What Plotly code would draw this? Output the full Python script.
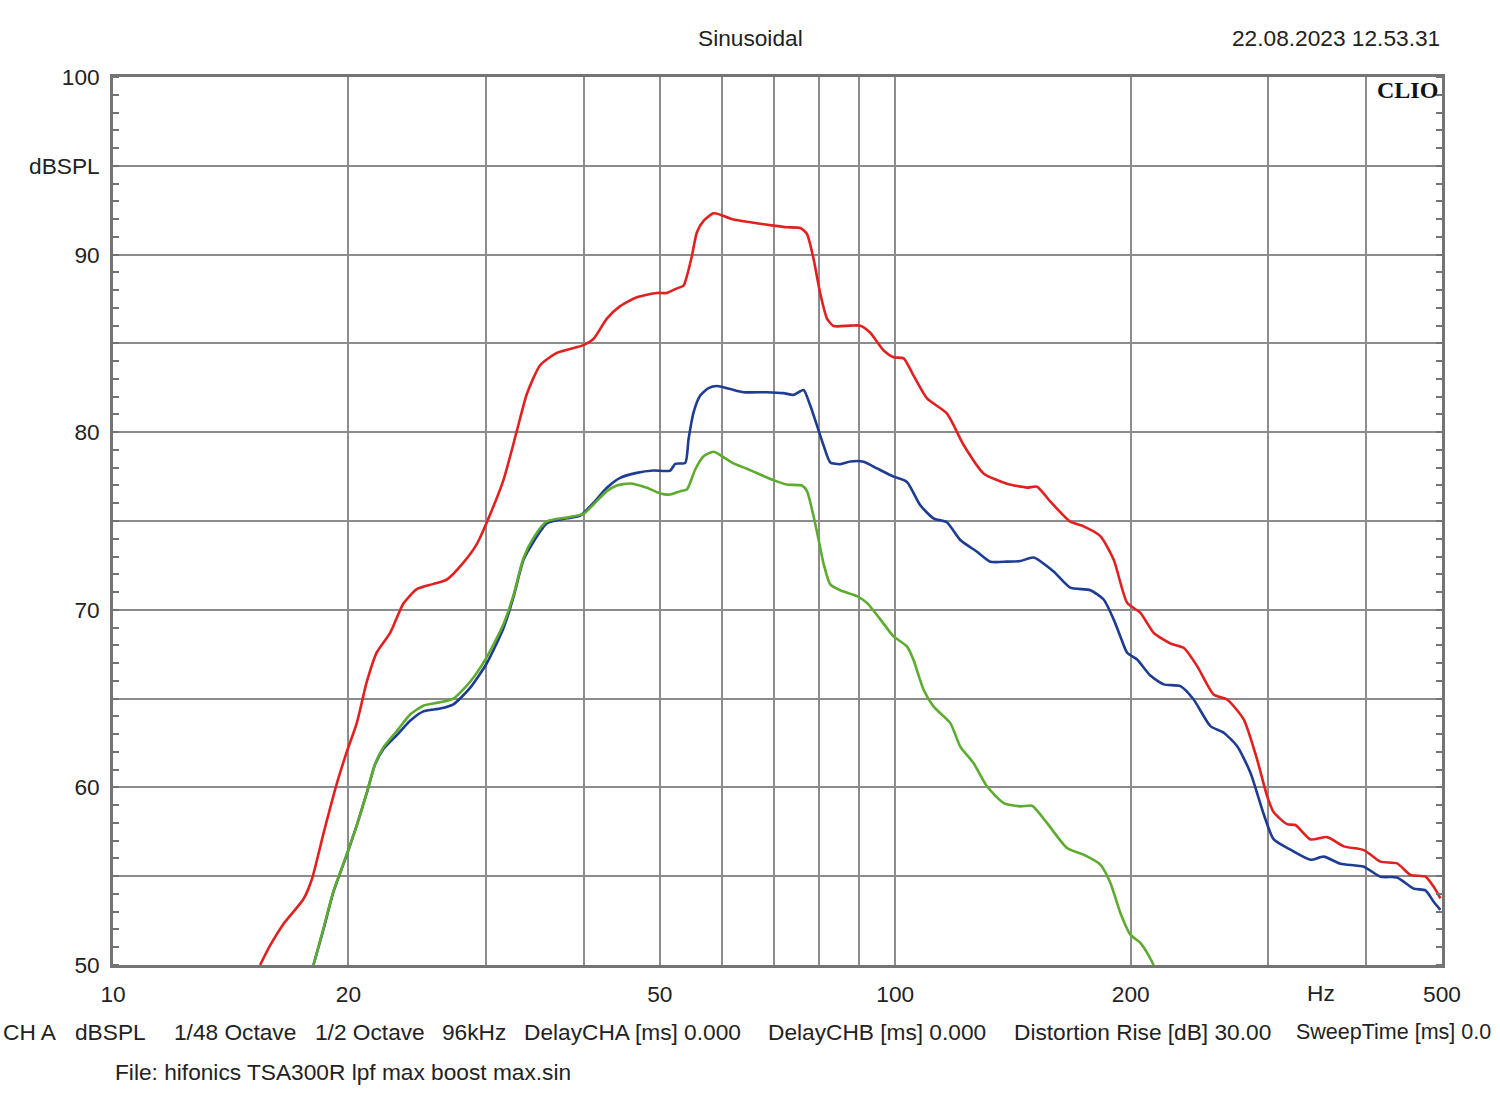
import numpy as np
import plotly.graph_objects as go

# ---------------- data ----------------
red_hz = [15.42, 15.88, 16.51, 17.51, 17.95, 18.58, 19.32, 19.90, 20.49, 21.11, 21.74, 22.61,
          23.51, 24.45, 25.68, 26.71, 28.05, 29.18, 30.1, 31.56, 32.83, 33.81, 35.16, 36.93,
          39.94, 41.14, 42.79, 44.50, 46.74, 49.58, 51.06, 52.59, 53.62, 54.16, 54.97, 55.78,
          56.88, 58.57, 59.74, 62.12, 65.26, 69.89, 72.70, 75.61, 77.12, 78.63, 80.20, 81.80,
          83.40, 87.61, 90.22, 92.92, 96.64, 99.50, 102.5, 105.5, 109.8, 116.4, 122.3, 129.7,
          138.9, 147.4, 151.8, 157.8, 167.4, 174.1, 182.9, 190.2, 197.9, 205.8, 214.0, 224.8,
          233.7, 243.2, 255.3, 265.6, 278.9, 290.1, 298.8, 304.7, 316.9, 324.8, 339.5, 356.6,
          374.4, 397.2, 417.1, 438.1, 455.6, 476.2, 487.9, 497.7]
red_db = [50.0, 51.1, 52.3, 53.7, 54.8, 57.4, 60.2, 62.0, 63.6, 65.95, 67.6, 68.7,
          70.35, 71.16, 71.46, 71.7, 72.66, 73.7, 75.0, 77.3, 80.07, 82.15, 83.77, 84.47,
          84.9, 85.25, 86.4, 87.1, 87.6, 87.84, 87.84, 88.1, 88.25, 88.8, 89.94, 91.26,
          91.9, 92.33, 92.25, 91.97, 91.82, 91.63, 91.54, 91.5, 91.16, 89.76, 87.8, 86.4,
          85.98, 86.0, 86.0, 85.6, 84.6, 84.22, 84.16, 83.2, 81.9, 81.06, 79.28, 77.68,
          77.1, 76.88, 76.93, 76.1, 74.96, 74.7, 74.15, 72.83, 70.4, 69.83, 68.7, 68.1,
          67.86, 66.83, 65.23, 64.95, 63.83, 61.58, 59.51, 58.6, 57.93, 57.88, 57.07, 57.2,
          56.68, 56.47, 55.82, 55.72, 55.07, 54.97, 54.4, 53.75]

blue_hz = [18.04, 18.58, 19.13, 19.90, 20.49, 21.11, 21.63, 22.16, 23.06, 23.98, 24.93, 26.19,
           27.24, 28.61, 30.05, 31.56, 32.50, 33.47, 34.47, 35.86, 38.04, 39.56, 41.14, 42.79,
           44.50, 46.74, 49.09, 51.56, 52.33, 53.89, 54.42, 55.22, 56.33, 57.72, 59.16, 61.52,
           63.98, 68.54, 71.98, 74.13, 76.35, 77.87, 79.42, 80.98, 82.59, 85.06, 87.61, 91.11,
           94.78, 99.50, 103.5, 107.6, 111.9, 116.4, 121.1, 127.2, 132.3, 138.9, 144.5, 150.3,
           159.4, 167.4, 177.6, 184.7, 190.2, 194.0, 197.9, 203.8, 211.9, 220.4, 231.5, 240.7,
           252.9, 263.0, 273.5, 284.5, 295.8, 304.7, 320.0, 339.5, 353.0, 370.8, 397.2, 417.1,
           438.1, 460.1, 476.2, 487.9, 497.7]
blue_db = [50.0, 52.0, 54.1, 56.2, 57.85, 59.7, 61.3, 62.15, 62.94, 63.75, 64.28, 64.44,
           64.68, 65.6, 66.99, 68.96, 70.7, 72.8, 73.82, 74.86, 75.15, 75.3, 76.02, 76.87,
           77.43, 77.71, 77.84, 77.84, 78.22, 78.27, 79.6, 81.1, 82.06, 82.48, 82.6, 82.43,
           82.25, 82.25, 82.2, 82.1, 82.38, 81.5, 80.38, 79.25, 78.3, 78.2, 78.35, 78.34,
           77.96, 77.5, 77.2, 75.9, 75.15, 74.93, 73.93, 73.27, 72.71, 72.71, 72.75, 72.94,
           72.15, 71.25, 71.1, 70.58, 69.46, 68.5, 67.58, 67.2, 66.3, 65.8, 65.7, 64.95,
           63.45, 63.08, 62.33, 60.83, 58.5, 57.07, 56.5, 55.93, 56.1, 55.7, 55.53, 54.97,
           54.93, 54.3, 54.2, 53.56, 53.1]

green_hz = [18.04, 18.58, 19.13, 19.90, 20.49, 21.11, 21.63, 22.16, 23.06, 23.98, 24.93, 26.19,
            27.24, 28.61, 30.05, 31.56, 32.50, 33.47, 34.47, 35.86, 38.04, 39.94, 41.14, 42.79,
            44.07, 45.83, 48.14, 50.07, 51.56, 53.10, 54.16, 55.50, 56.88, 58.57, 60.04, 62.12,
            64.62, 67.20, 69.89, 72.70, 75.99, 77.12, 78.63, 79.80, 80.98, 82.59, 85.06, 89.35,
            92.02, 95.70, 99.50, 103.5, 105.5, 108.7, 111.9, 117.6, 121.1, 125.9, 131.0, 137.6,
            144.5, 149.6, 156.3, 165.8, 174.1, 182.9, 188.4, 194.0, 199.8, 205.8, 209.9, 214.0]
green_db = [50.0, 52.06, 54.14, 56.23, 57.85, 59.7, 61.32, 62.25, 63.17, 64.1, 64.6, 64.79,
            65.0, 65.95, 67.34, 69.19, 70.81, 72.9, 74.05, 74.98, 75.2, 75.4, 75.93, 76.68,
            77.0, 77.11, 76.87, 76.55, 76.49, 76.68, 76.77, 77.9, 78.65, 78.9, 78.65, 78.24,
            77.94, 77.62, 77.3, 77.05, 77.0, 76.68, 75.27, 73.96, 72.6, 71.43, 71.1, 70.77,
            70.39, 69.46, 68.5, 67.94, 67.19, 65.5, 64.56, 63.62, 62.3, 61.37, 60.06, 59.12,
            58.93, 58.97, 58.0, 56.59, 56.21, 55.65, 54.62, 52.93, 51.71, 51.24, 50.68, 50.0]

x_grid_hz = [10, 20, 30, 40, 50, 60, 70, 80, 90, 100, 200, 300, 400, 500]
x_tick_text = ["10", "20", "", "", "50", "", "", "", "", "100", "200", "", "", "500"]
y_grid_db = [50, 55, 60, 65, 70, 75, 80, 85, 90, 95, 100]
y_tick_text = ["50", "", "60", "", "70", "", "80", "", "90", "dBSPL", "100"]

title_text = "Sinusoidal"
date_text = "22.08.2023 12.53.31"
brand_text = "CLIO"
unit_text = "Hz"
info_items = ["CH A", "dBSPL", "1/48 Octave", "1/2 Octave", "96kHz", "DelayCHA [ms] 0.000",
              "DelayCHB [ms] 0.000", "Distortion Rise [dB] 30.00", "SweepTime [ms] 0.0"]
info_px = [1, 73, 172, 313, 440, 522, 766, 1012, 1294]
info_fs = [22.7, 22.7, 22.7, 22.7, 22.7, 22.7, 22.7, 22.7, 21.5]
file_text = "File: hifonics TSA300R lpf max boost max.sin"

# ---------------- figure ----------------
W, H = 1500, 1110
L, R, T, B = 113, 58, 77, 145
PW, PH = W - L - R, H - T - B

FONT = "Liberation Sans, Arial, sans-serif"
FS = 22.7
TXT = "#222222"
GRID = "#8c8c8c"
FRAME = "#747474"

fig = go.Figure()
for xs, ys, col in [(blue_hz, blue_db, "#1d3c92"),
                    (green_hz, green_db, "#5dab2f"),
                    (red_hz, red_db, "#e1211f")]:
    fig.add_trace(go.Scatter(x=xs, y=ys, mode="lines",
                             line=dict(color=col, width=2.6, shape="spline", smoothing=0.6),
                             hoverinfo="skip"))

fig.update_layout(
    width=W, height=H,
    margin=dict(l=L, r=R, t=T, b=B),
    paper_bgcolor="white", plot_bgcolor="white",
    showlegend=False,
    font=dict(family=FONT, size=FS, color=TXT),
)

fig.update_xaxes(
    type="log", range=[1, np.log10(500)],
    tickmode="array", tickvals=x_grid_hz, ticktext=x_tick_text,
    showgrid=True, gridcolor=GRID, gridwidth=1.6,
    ticks="outside", ticklen=7, tickcolor="rgba(0,0,0,0)",
    showline=True, linecolor=FRAME, linewidth=2.6, mirror=True,
    tickfont=dict(family=FONT, size=FS, color=TXT),
    zeroline=False,
)
fig.update_yaxes(
    range=[50, 100],
    tickmode="array", tickvals=y_grid_db, ticktext=y_tick_text,
    showgrid=True, gridcolor=GRID, gridwidth=1.6,
    ticks="outside", ticklen=6, tickcolor="rgba(0,0,0,0)",
    showline=True, linecolor=FRAME, linewidth=2.6, mirror="allticks",
    minor=dict(tick0=50, dtick=1, ticks="inside", ticklen=6, tickwidth=1.5,
               tickcolor=FRAME, showgrid=False),
    tickfont=dict(family=FONT, size=FS, color=TXT),
    zeroline=False,
)

def px_x(px):
    return (px - L) / PW

def px_y(py):
    return (H - B - py) / PH

ann = []
ann.append(dict(text=title_text, x=px_x(750), y=px_y(38), xref="paper", yref="paper",
                xanchor="center", yanchor="middle", showarrow=False,
                font=dict(family=FONT, size=FS, color=TXT)))
ann.append(dict(text=date_text, x=px_x(1442), y=px_y(38), xref="paper", yref="paper",
                xanchor="right", yanchor="middle", showarrow=False,
                font=dict(family=FONT, size=FS, color=TXT)))
ann.append(dict(text="<b>" + brand_text + "</b>", x=px_x(1440), y=px_y(90), xref="paper", yref="paper",
                xanchor="right", yanchor="middle", showarrow=False,
                font=dict(family="Liberation Serif, DejaVu Serif, serif", size=24, color="#111111")))
ann.append(dict(text=unit_text, x=px_x(1321), y=px_y(993), xref="paper", yref="paper",
                xanchor="center", yanchor="middle", showarrow=False,
                font=dict(family=FONT, size=FS, color=TXT)))
for t, p, s in zip(info_items, info_px, info_fs):
    ann.append(dict(text=t, x=px_x(p), y=px_y(1032), xref="paper", yref="paper",
                    xanchor="left", yanchor="middle", showarrow=False,
                    font=dict(family=FONT, size=s, color=TXT)))
ann.append(dict(text=file_text, x=px_x(113), y=px_y(1072), xref="paper", yref="paper",
                xanchor="left", yanchor="middle", showarrow=False,
                font=dict(family=FONT, size=FS, color=TXT)))
fig.update_layout(annotations=ann)

fig.write_html("out.html")
